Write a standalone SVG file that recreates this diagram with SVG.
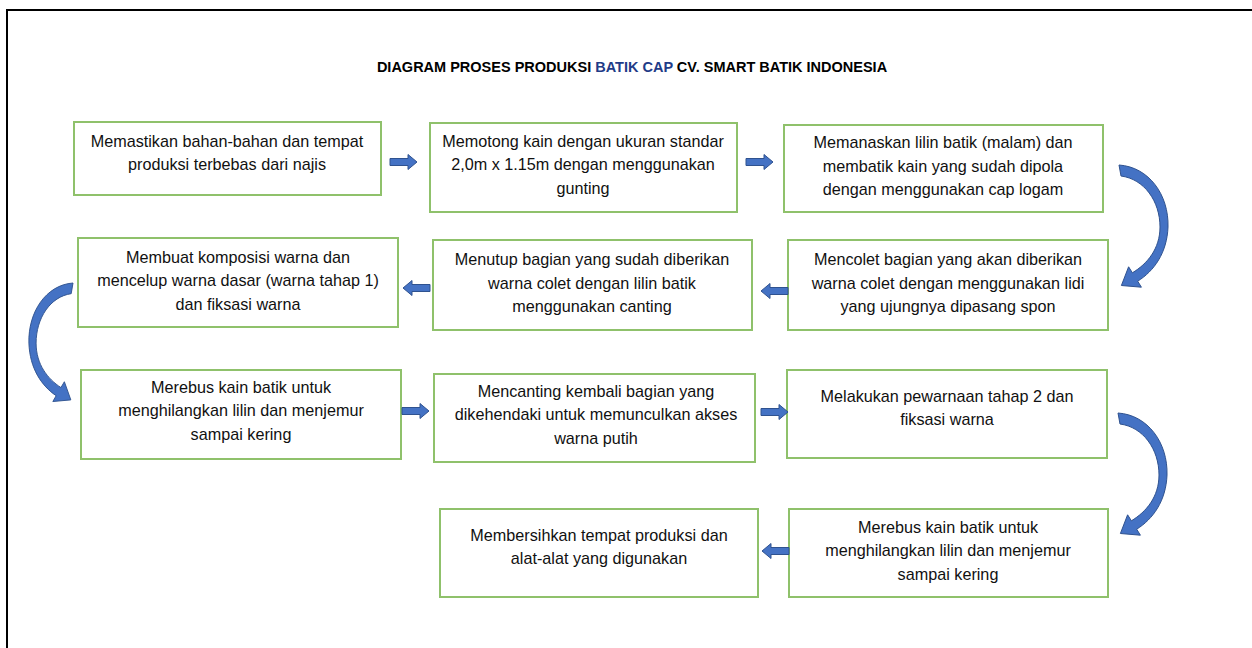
<svg xmlns="http://www.w3.org/2000/svg" xmlns:xlink="http://www.w3.org/1999/xlink" width="1252" height="648" viewBox="0 0 1252 648">
<style>
.box{fill:#fff;stroke:#8fc16b;stroke-width:2}
.t{font-family:"Liberation Sans",Arial,sans-serif;font-size:16.2px;fill:#111;text-anchor:middle}
.title{font-family:"Liberation Sans",Arial,sans-serif;font-size:14.5px;font-weight:bold;fill:#000;text-anchor:middle}
.arr{fill:#4472c4;stroke:#2f528f;stroke-width:1}
.frame{stroke:#000;stroke-width:2;fill:none}
</style>
<defs>
<path id="ra" d="M0,-3.5 H18 V-7.5 L27,0 L18,7.5 V3.5 H0 Z"/>
<path id="la" d="M27,-3.5 H9 V-7.5 L0,0 L9,7.5 V3.5 H27 Z"/>
<path id="ca" d="M0,0 C30,2 50,30 49,62 C48,88 35,106 18.7,116.2 L22.4,122.2 L2.4,120.5 L9.6,101.8 L13.4,107.8 C28,99 41,84 41,62 C41,36 25,14 2,11 Z"/>
</defs>
<rect width="1252" height="648" fill="#fff"/>
<path class="frame" d="M7,648 V10 H1252"/>
<text class="title" x="632" y="72">DIAGRAM PROSES PRODUKSI <tspan fill="#1f3c88">BATIK CAP</tspan> CV. SMART BATIK INDONESIA</text>

<g id="n1"><rect class="box" x="74" y="122" width="307" height="73"/>
<text class="t" x="227" y="147">Memastikan bahan-bahan dan tempat</text>
<text class="t" x="227" y="170">produksi terbebas dari najis</text></g>

<g id="n2"><rect class="box" x="430" y="123" width="307" height="89"/>
<text class="t" x="583" y="147">Memotong kain dengan ukuran standar</text>
<text class="t" x="583" y="170">2,0m x 1.15m dengan menggunakan</text>
<text class="t" x="583" y="194">gunting</text></g>

<g id="n3"><rect class="box" x="784" y="125" width="319" height="87"/>
<text class="t" x="943" y="148">Memanaskan lilin batik (malam) dan</text>
<text class="t" x="943" y="172">membatik kain yang sudah dipola</text>
<text class="t" x="943" y="195">dengan menggunakan cap logam</text></g>

<g id="n4"><rect class="box" x="78" y="238" width="320" height="89"/>
<text class="t" x="238" y="263">Membuat komposisi warna dan</text>
<text class="t" x="238" y="286">mencelup warna dasar (warna tahap 1)</text>
<text class="t" x="238" y="310">dan fiksasi warna</text></g>

<g id="n5"><rect class="box" x="433" y="240" width="319" height="90"/>
<text class="t" x="592" y="265">Menutup bagian yang sudah diberikan</text>
<text class="t" x="592" y="289">warna colet dengan lilin batik</text>
<text class="t" x="592" y="312">menggunakan canting</text></g>

<g id="n6"><rect class="box" x="788" y="240" width="320" height="90"/>
<text class="t" x="948" y="265">Mencolet bagian yang akan diberikan</text>
<text class="t" x="948" y="289">warna colet dengan menggunakan lidi</text>
<text class="t" x="948" y="312">yang ujungnya dipasang spon</text></g>

<g id="n7"><rect class="box" x="81" y="370" width="320" height="89"/>
<text class="t" x="241" y="393">Merebus kain batik untuk</text>
<text class="t" x="241" y="416">menghilangkan lilin dan menjemur</text>
<text class="t" x="241" y="440">sampai kering</text></g>

<g id="n8"><rect class="box" x="434" y="374" width="321" height="88"/>
<text class="t" x="596" y="397">Mencanting kembali bagian yang</text>
<text class="t" x="596" y="420">dikehendaki untuk memunculkan akses</text>
<text class="t" x="596" y="444">warna putih</text></g>

<g id="n9"><rect class="box" x="787" y="370" width="320" height="88"/>
<text class="t" x="947" y="402">Melakukan pewarnaan tahap 2 dan</text>
<text class="t" x="947" y="425">fiksasi warna</text></g>

<g id="n10"><rect class="box" x="440" y="509" width="318" height="88"/>
<text class="t" x="599" y="541">Membersihkan tempat produksi dan</text>
<text class="t" x="599" y="564">alat-alat yang digunakan</text></g>

<g id="n11"><rect class="box" x="789" y="509" width="319" height="88"/>
<text class="t" x="948" y="533">Merebus kain batik untuk</text>
<text class="t" x="948" y="556">menghilangkan lilin dan menjemur</text>
<text class="t" x="948" y="580">sampai kering</text></g>

<g id="connectors" class="arr">
<use xlink:href="#ra" x="390" y="162"/>
<use xlink:href="#ra" x="746" y="162"/>
<use xlink:href="#ca" transform="translate(1119,165)"/>
<use xlink:href="#la" x="761" y="291"/>
<use xlink:href="#la" x="403" y="288"/>
<use xlink:href="#ca" transform="translate(73,283) scale(-0.9,0.97)"/>
<use xlink:href="#ra" x="402" y="411"/>
<use xlink:href="#ra" x="761" y="412"/>
<use xlink:href="#ca" transform="translate(1118,413)"/>
<use xlink:href="#la" x="762" y="551"/>
</g>
</svg>
